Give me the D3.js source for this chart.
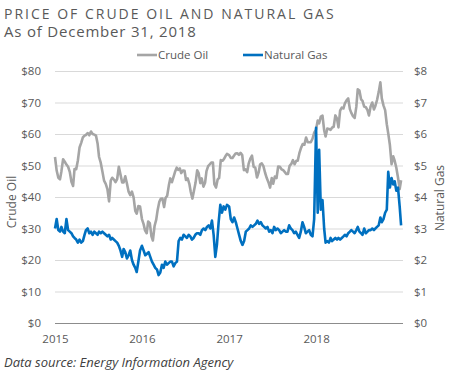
<!DOCTYPE html>
<html>
<head>
<meta charset="utf-8">
<script src="https://cdn.jsdelivr.net/npm/d3@7"></script>
<style>
  body { margin: 0; background: #fff; }
  text { font-family: "Open Sans", sans-serif; }
  .axis path { display: none; }
  .axis text { fill: #595959; font-size: 11.5px; }
</style>
</head>
<body>
<div id="chart"></div>
<script>
"use strict";

// weekly prices, one list per year
var years = [2015, 2016, 2017, 2018];

var oil2015 = [52.7, 48.4, 46.1, 45.6, 48.2, 52.0, 51.2, 50.3, 49.6, 48.0, 44.8, 43.5, 48.9, 48.8, 51.6, 55.7,
  57.2, 58.9, 59.5, 59.7, 60.3, 59.6, 60.8, 60.0, 59.8, 59.5, 56.9, 52.7, 50.9, 48.1, 45.2, 44.2, 42.5, 38.6,
  45.2, 46.1, 45.6, 44.7, 45.7, 49.6, 47.1, 44.6, 44.6, 46.6, 44.3, 41.7, 40.6, 41.7, 39.9, 35.6, 34.7, 37.1, 37.0];
var oil2016 = [33.0, 31.4, 29.4, 28.5, 32.2, 31.7, 27.5, 26.2, 30.8, 32.8, 35.9, 38.5, 39.4, 39.5, 36.8, 39.7,
  40.4, 43.7, 45.9, 44.7, 46.2, 48.0, 49.3, 48.6, 49.1, 47.6, 48.4, 48.3, 45.4, 45.9, 44.2, 41.6, 39.5, 41.8,
  44.5, 48.5, 47.6, 44.4, 45.9, 43.3, 44.5, 48.2, 49.8, 50.4, 50.9, 50.9, 44.1, 43.0, 45.6, 46.0, 51.7, 51.5,
  52.0, 53.0, 53.7];
var oil2017 = [53.3, 52.4, 52.4, 53.2, 53.8, 53.9, 53.4, 54.0, 53.3, 48.5, 48.8, 47.9, 50.6, 52.2, 53.1, 49.6,
  49.3, 46.2, 47.8, 50.3, 50.7, 49.8, 47.7, 46.0, 44.7, 43.0, 46.0, 44.2, 46.5, 46.0, 49.7, 49.6, 48.8, 48.5,
  47.9, 47.3, 47.3, 49.9, 50.5, 51.7, 50.4, 51.5, 51.5, 53.9, 55.6, 56.8, 56.6, 58.9, 57.4, 57.4, 57.4, 58.5, 60.4];
var oil2018 = [61.4, 64.3, 63.4, 65.5, 65.8, 61.2, 59.2, 61.7, 61.6, 61.3, 62.0, 62.3, 65.9, 64.9, 62.1, 67.4,
  68.4, 68.1, 69.7, 70.7, 71.3, 67.9, 66.7, 65.7, 65.1, 68.6, 74.2, 73.8, 71.0, 70.5, 68.7, 68.5, 67.6, 65.9,
  68.7, 70.0, 67.8, 68.9, 70.8, 73.3, 76.4, 71.3, 69.1, 67.6, 63.1, 60.2, 56.5, 50.4, 52.9, 51.5, 49.3, 46.2,
  42.5, 45.3];

var gas2015 = [3.0, 3.3, 2.95, 2.9, 3.05, 2.9, 2.85, 3.3, 2.95, 2.9, 2.85, 2.75, 2.7, 2.65, 2.55, 2.65, 2.55,
  2.6, 2.8, 2.95, 3.0, 2.85, 2.9, 2.8, 2.9, 2.85, 2.8, 2.9, 2.85, 2.9, 2.85, 2.8, 2.75, 2.8, 2.65, 2.7, 2.65,
  2.6, 2.55, 2.45, 2.3, 2.1, 2.35, 2.25, 2.05, 2.15, 2.3, 2.0, 1.85, 1.75, 1.62, 1.95, 2.3];
var gas2016 = [2.45, 2.3, 2.15, 2.2, 2.25, 2.1, 1.95, 1.85, 1.75, 1.7, 1.52, 1.6, 1.85, 1.75, 1.95, 1.85, 1.9,
  1.95, 1.95, 1.8, 1.9, 1.95, 2.6, 2.7, 2.65, 2.8, 2.75, 2.7, 2.8, 2.75, 2.65, 2.7, 2.8, 2.85, 2.85, 2.8, 2.95,
  3.0, 2.95, 3.05, 3.1, 3.0, 3.25, 2.8, 2.1, 2.5, 3.2, 3.75, 3.5, 3.7, 3.6, 3.75];
var gas2017 = [3.7, 3.3, 3.2, 3.35, 3.2, 3.0, 2.8, 2.6, 2.48, 2.6, 2.9, 2.95, 3.0, 3.1, 3.05, 3.1, 3.15, 3.25,
  3.15, 3.2, 3.1, 3.05, 3.0, 3.05, 2.9, 2.95, 2.85, 3.05, 2.95, 3.0, 2.95, 2.85, 2.9, 2.95, 2.9, 2.9, 3.1, 3.0,
  2.95, 2.85, 2.9, 2.8, 2.7, 2.9, 3.2, 3.05, 2.85, 2.9, 2.95, 2.8, 2.75, 3.3];
var gas2018 = [6.2, 3.5, 5.5, 3.6, 3.9, 3.0, 2.55, 2.6, 2.55, 2.7, 2.6, 2.65, 2.7, 2.65, 2.7, 2.65, 2.7, 2.75,
  2.8, 2.75, 2.85, 2.9, 2.95, 2.9, 2.85, 2.95, 3.05, 2.9, 2.85, 2.8, 3.0, 2.85, 2.9, 2.95, 2.95, 3.0, 2.95, 3.0,
  3.05, 3.1, 3.35, 3.2, 3.3, 3.5, 3.6, 4.8, 4.3, 4.6, 4.4, 4.5, 4.2, 4.3, 3.7, 3.1];

var oilTicks = [0, 10, 20, 30, 40, 50, 60, 70, 80];
var gasTicks = [0, 1, 2, 3, 4, 5, 6, 7, 8];
var seriesNames = ["Crude Oil", "Natural Gas"];
var seriesColors = ["#a5a5a5", "#0070c0"];

function toPoints(lists) {
  var pts = [];
  lists.forEach(function(list, k) {
    var n = list.length;
    list.forEach(function(v, i) {
      pts.push({ date: new Date(years[k], 0, 1 + Math.round(i * 364 / n)), value: v });
    });
  });
  return pts;
}

var oilData = toPoints([oil2015, oil2016, oil2017, oil2018]);
var gasData = toPoints([gas2015, gas2016, gas2017, gas2018]);

var W = 450, H = 375;
var margin = { top: 71, right: 47, bottom: 52, left: 55 },
    width = W - margin.left - margin.right,
    height = H - margin.top - margin.bottom;

var svg = d3.select("#chart").append("svg")
    .attr("width", W)
    .attr("height", H);

svg.append("rect").attr("width", W).attr("height", H).attr("fill", "#fff");

// title
svg.append("text")
    .attr("x", 4).attr("y", 19)
    .attr("fill", "#595959")
    .style("font-size", "14px")
    .style("letter-spacing", "2px")
    .text("PRICE OF CRUDE OIL AND NATURAL GAS");
svg.append("text")
    .attr("x", 4).attr("y", 37)
    .attr("fill", "#595959")
    .style("font-size", "15px")
    .style("letter-spacing", "0.8px")
    .text("As of December 31, 2018");

var x = d3.scaleTime()
    .domain([new Date(2015, 0, 1), new Date(2019, 0, 1)])
    .range([0, width]);
var yOil = d3.scaleLinear().domain([0, 80]).range([height, 0]);
var yGas = d3.scaleLinear().domain([0, 8]).range([height, 0]);

var g = svg.append("g")
    .attr("transform", "translate(" + margin.left + "," + margin.top + ")");

// gridlines
g.append("g")
    .attr("class", "grid")
    .selectAll("line")
    .data(oilTicks.slice(1))
  .enter().append("line")
    .attr("x1", 0).attr("x2", width)
    .attr("y1", function(d) { return yOil(d) + 0.5; })
    .attr("y2", function(d) { return yOil(d) + 0.5; })
    .attr("stroke", "#d9d9d9");

g.append("line")
    .attr("x1", 0).attr("x2", width)
    .attr("y1", height + 0.5).attr("y2", height + 0.5)
    .attr("stroke", "#8c8c8c")
    .attr("stroke-width", 1.2);

// axes
g.append("g")
    .attr("class", "axis")
    .call(d3.axisLeft(yOil).tickValues(oilTicks).tickSize(0).tickPadding(14)
      .tickFormat(function(d) { return "$" + d; }));

g.append("g")
    .attr("class", "axis")
    .attr("transform", "translate(" + width + ",0)")
    .call(d3.axisRight(yGas).tickValues(gasTicks).tickSize(0).tickPadding(11)
      .tickFormat(function(d) { return "$" + d; }));

g.append("g")
    .attr("class", "axis")
    .attr("transform", "translate(0," + height + ")")
    .call(d3.axisBottom(x)
      .tickValues(years.map(function(yr) { return new Date(yr, 0, 1); }))
      .tickSize(0).tickPadding(12)
      .tickFormat(d3.timeFormat("%Y")));

// axis titles
svg.append("text")
    .attr("transform", "translate(16,202) rotate(-90)")
    .attr("text-anchor", "middle")
    .attr("fill", "#595959")
    .style("font-size", "12px")
    .text("Crude Oil");
svg.append("text")
    .attr("transform", "translate(444,198) rotate(-90)")
    .attr("text-anchor", "middle")
    .attr("fill", "#595959")
    .style("font-size", "12px")
    .text("Natural Gas");

// lines
var oilLine = d3.line()
    .x(function(d) { return x(d.date); })
    .y(function(d) { return yOil(d.value); });
var gasLine = d3.line()
    .x(function(d) { return x(d.date); })
    .y(function(d) { return yGas(d.value); });

g.append("path")
    .datum(oilData)
    .attr("fill", "none")
    .attr("stroke", seriesColors[0])
    .attr("stroke-width", 2.6)
    .attr("stroke-linejoin", "round")
    .attr("d", oilLine);

g.append("path")
    .datum(gasData)
    .attr("fill", "none")
    .attr("stroke", seriesColors[1])
    .attr("stroke-width", 2.6)
    .attr("stroke-linejoin", "round")
    .attr("d", gasLine);

// legend
var legendX = [137, 243];
var legend = svg.append("g").selectAll("g")
    .data(seriesNames)
  .enter().append("g")
    .attr("transform", function(d, i) { return "translate(" + legendX[i] + ",55)"; });
legend.append("line")
    .attr("x1", 0).attr("x2", 20)
    .attr("stroke", function(d, i) { return seriesColors[i]; })
    .attr("stroke-width", 2.6);
legend.append("text")
    .attr("x", 21).attr("dy", "0.35em")
    .attr("fill", "#595959")
    .style("font-size", "11.5px")
    .text(function(d) { return d; });

// source
svg.append("text")
    .attr("x", 4).attr("y", 367)
    .attr("fill", "#404040")
    .style("font-size", "13px")
    .style("font-style", "italic")
    .text("Data source: Energy Information Agency");
</script>
</body>
</html>
